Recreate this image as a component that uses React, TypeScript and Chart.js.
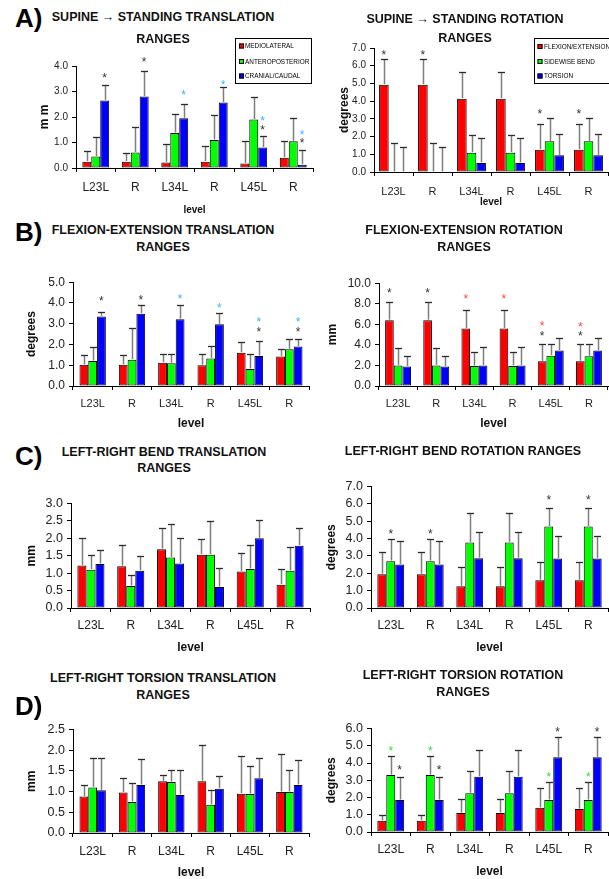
import React, { useEffect, useRef } from "react";
import { Chart, registerables } from "chart.js";

Chart.register(...registerables);
const FONT = "'Liberation Sans', Arial, Helvetica, sans-serif";
Chart.defaults.font.family = FONT;

// ---------- categories & series ----------
const LEVELS = ["L23L", "R", "L34L", "R", "L45L", "R"];
const TRANS_SERIES = ["MEDIOLATERAL", "ANTEROPOSTERIOR", "CRANIAL/CAUDAL"];
const ROT_SERIES = ["FLEXION/EXTENSION", "SIDEWISE BEND", "TORSION"];
const SERIES_COLORS = ["#ff0000", "#00ff00", "#0000ff"];
const STAR_COLORS: Record<string, string> = { k: "#333333", b: "#3fb0ff", r: "#ff4545", g: "#35dd35" };

// ---------- A) supine -> standing translation (mm) ----------
const A_TR_ML = [0.25, 0.25, 0.22, 0.25, 0.18, 0.4];
const A_TR_ML_TOP = [0.65, 0.6, 0.93, 0.85, 1.04, 1.07];
const A_TR_AP = [0.45, 0.61, 1.37, 1.1, 1.9, 1.05];
const A_TR_AP_TOP = [1.2, 1.62, 2.1, 2.08, 2.77, 1.95];
const A_TR_CC = [2.65, 2.8, 1.95, 2.57, 0.8, 0.13];
const A_TR_CC_TOP = [3.25, 3.8, 2.5, 3.18, 1.27, 0.7];
const A_TR_STARS: [number, number, number, string][] = [
  [0, 2, 3.65, "k"], [1, 2, 4.26, "k"], [2, 2, 2.97, "b"], [3, 2, 3.36, "b"],
  [4, 2, 1.95, "b"], [4, 2, 1.62, "k"], [5, 2, 1.4, "b"], [5, 2, 1.09, "k"],
];

// ---------- A) supine -> standing rotation (degrees) ----------
const A_RO_FE = [4.93, 4.93, 4.14, 4.14, 1.26, 1.26];
const A_RO_FE_TOP = [6.38, 6.38, 5.65, 5.65, 2.73, 2.73];
const A_RO_SB = [0, 0, 1.09, 1.09, 1.73, 1.73];
const A_RO_SB_TOP = [1.65, 1.65, 2.11, 2.11, 3.07, 3.07];
const A_RO_TO = [0, 0, 0.51, 0.51, 0.94, 0.94];
const A_RO_TO_TOP = [1.4, 1.4, 1.94, 1.94, 2.17, 2.17];
const A_RO_STARS: [number, number, number, string][] = [
  [0, 0, 6.78, "k"], [1, 0, 6.78, "k"], [4, 0, 3.43, "k"], [5, 0, 3.43, "k"],
];

// ---------- B) flexion-extension translation ----------
const B_TR_ML = [1.02, 1.02, 1.12, 1.0, 1.6, 1.42];
const B_TR_ML_TOP = [1.47, 1.47, 1.55, 1.52, 2.1, 1.8];
const B_TR_AP = [1.2, 1.27, 1.1, 1.33, 0.82, 1.77];
const B_TR_AP_TOP = [1.87, 2.78, 1.55, 1.93, 1.55, 2.28];
const B_TR_CC = [3.35, 3.48, 3.22, 2.97, 1.45, 1.9];
const B_TR_CC_TOP = [3.55, 3.89, 3.9, 3.5, 2.15, 2.28];
const B_TR_STARS: [number, number, number, string][] = [
  [0, 2, 4.24, "k"], [1, 2, 4.27, "k"], [2, 2, 4.32, "b"], [3, 2, 3.92, "b"],
  [4, 2, 3.21, "b"], [4, 2, 2.74, "k"], [5, 2, 3.21, "b"], [5, 2, 2.74, "k"],
];

// ---------- B) flexion-extension rotation ----------
const B_RO_FE = [6.4, 6.4, 5.6, 5.6, 2.4, 2.4];
const B_RO_FE_TOP = [8.2, 8.2, 7.4, 7.4, 4.05, 4.05];
const B_RO_SB = [2.0, 2.0, 1.95, 1.95, 2.95, 2.9];
const B_RO_SB_TOP = [3.7, 3.7, 3.3, 3.3, 4.05, 4.05];
const B_RO_TO = [1.9, 1.9, 2.0, 2.0, 3.45, 3.45];
const B_RO_TO_TOP = [2.95, 2.95, 3.75, 3.75, 4.65, 4.65];
const B_RO_STARS: [number, number, number, string][] = [
  [0, 0, 9.36, "k"], [1, 0, 9.36, "k"], [2, 0, 8.72, "r"], [3, 0, 8.72, "r"],
  [4, 0, 6.1, "r"], [4, 0, 5.14, "k"], [5, 0, 6.0, "r"], [5, 0, 5.14, "k"],
];

// ---------- C) left-right bend translation ----------
const C_TR_ML = [1.22, 1.2, 1.69, 1.53, 1.05, 0.67];
const C_TR_ML_TOP = [2.02, 1.8, 2.3, 1.97, 1.58, 1.12];
const C_TR_AP = [1.1, 0.63, 1.45, 1.53, 1.12, 1.07];
const C_TR_AP_TOP = [1.53, 0.95, 2.4, 2.5, 1.8, 1.75];
const C_TR_CC = [1.26, 1.07, 1.28, 0.6, 2.0, 1.79];
const C_TR_CC_TOP = [1.66, 1.48, 2.02, 1.14, 2.52, 2.31];
const C_TR_STARS: [number, number, number, string][] = [];

// ---------- C) left-right bend rotation ----------
const C_RO_FE = [1.95, 1.95, 1.25, 1.25, 1.6, 1.6];
const C_RO_FE_TOP = [3.2, 3.2, 2.35, 2.35, 2.65, 2.65];
const C_RO_SB = [2.7, 2.7, 3.78, 3.78, 4.69, 4.69];
const C_RO_SB_TOP = [3.95, 3.95, 5.48, 5.48, 5.78, 5.78];
const C_RO_TO = [2.5, 2.5, 2.87, 2.87, 2.85, 2.85];
const C_RO_TO_TOP = [3.85, 3.85, 4.35, 4.35, 4.15, 4.15];
const C_RO_STARS: [number, number, number, string][] = [
  [0, 1, 4.42, "k"], [1, 1, 4.42, "k"], [4, 1, 6.37, "k"], [5, 1, 6.37, "k"],
];

// ---------- D) left-right torsion translation ----------
const D_TR_ML = [0.88, 0.98, 1.25, 1.25, 0.95, 0.99];
const D_TR_ML_TOP = [1.17, 1.32, 1.4, 2.13, 1.86, 1.92];
const D_TR_AP = [1.1, 0.75, 1.23, 0.68, 0.94, 0.99];
const D_TR_AP_TOP = [1.81, 1.2, 1.53, 1.03, 1.61, 1.52];
const D_TR_CC = [1.03, 1.16, 0.92, 1.07, 1.32, 1.16];
const D_TR_CC_TOP = [1.81, 1.78, 1.52, 1.38, 1.81, 1.77];
const D_TR_STARS: [number, number, number, string][] = [];

// ---------- D) left-right torsion rotation ----------
const D_RO_FE = [0.65, 0.65, 1.1, 1.1, 1.4, 1.33];
const D_RO_FE_TOP = [1.0, 1.0, 1.93, 1.93, 2.55, 2.55];
const D_RO_SB = [3.3, 3.3, 2.25, 2.25, 1.85, 1.85];
const D_RO_SB_TOP = [4.42, 4.42, 3.52, 3.52, 2.9, 2.9];
const D_RO_TO = [1.85, 1.85, 3.2, 3.2, 4.33, 4.33];
const D_RO_TO_TOP = [3.2, 3.2, 4.78, 4.78, 5.5, 5.5];
const D_RO_STARS: [number, number, number, string][] = [
  [0, 1, 4.86, "g"], [0, 2, 3.77, "k"], [1, 1, 4.86, "g"], [1, 2, 3.77, "k"],
  [4, 1, 3.37, "g"], [4, 2, 6.0, "k"], [5, 1, 3.37, "g"], [5, 2, 6.0, "k"],
];

// ---------- layout ----------
type LegendSpec = { x: number; y: number; w: number; h: number; sq: number; tx: number; rows: number[] };
interface PanelSpec {
  id: string;
  series: string[];
  means: number[][];
  tops: number[][];
  stars: [number, number, number, string][];
  yMax: number; yStep: number; yTitle: string;
  axisX: number; plotRight: number; plotTop: number; plotBottom: number;
  padTop: number; padRight: number;
  yTitleOff: number; levelOff: number; levelFont: number;
  tickFont: number; xFont: number; xLabOff: number; catPct: number;
  legend?: LegendSpec;
}

const PANELS: PanelSpec[] = [
  {
    id: "a1", series: TRANS_SERIES, means: [A_TR_ML, A_TR_AP, A_TR_CC], tops: [A_TR_ML_TOP, A_TR_AP_TOP, A_TR_CC_TOP],
    stars: A_TR_STARS, yMax: 4, yStep: 1, yTitle: "m m",
    axisX: 76, plotRight: 313, plotTop: 66, plotBottom: 168, padTop: 30, padRight: 3,
    yTitleOff: 31, levelOff: 42, levelFont: 10, tickFont: 10, xFont: 12, xLabOff: 20, catPct: 0.68,
    legend: { x: 235, y: 38, w: 76, h: 45, sq: 239, tx: 245, rows: [46, 61.5, 76] },
  },
  {
    id: "a2", series: ROT_SERIES, means: [A_RO_FE, A_RO_SB, A_RO_TO], tops: [A_RO_FE_TOP, A_RO_SB_TOP, A_RO_TO_TOP],
    stars: A_RO_STARS, yMax: 7, yStep: 1, yTitle: "degrees",
    axisX: 374, plotRight: 608, plotTop: 48, plotBottom: 172, padTop: 12, padRight: 1,
    yTitleOff: 29, levelOff: 30, levelFont: 10, tickFont: 10, xFont: 11, xLabOff: 20, catPct: 0.74,
    legend: { x: 534, y: 38, w: 80, h: 45, sq: 537.5, tx: 544, rows: [46.5, 61.5, 76] },
  },
  {
    id: "b1", series: TRANS_SERIES, means: [B_TR_ML, B_TR_AP, B_TR_CC], tops: [B_TR_ML_TOP, B_TR_AP_TOP, B_TR_CC_TOP],
    stars: B_TR_STARS, yMax: 5, yStep: 1, yTitle: "degrees",
    axisX: 73, plotRight: 309, plotTop: 281, plotBottom: 386, padTop: 10, padRight: 3,
    yTitleOff: 41, levelOff: 38, levelFont: 12, tickFont: 12, xFont: 11, xLabOff: 18, catPct: 0.67,
  },
  {
    id: "b2", series: ROT_SERIES, means: [B_RO_FE, B_RO_SB, B_RO_TO], tops: [B_RO_FE_TOP, B_RO_SB_TOP, B_RO_TO_TOP],
    stars: B_RO_STARS, yMax: 10, yStep: 2, yTitle: "mm",
    axisX: 379, plotRight: 608, plotTop: 282, plotBottom: 386, padTop: 10, padRight: 1,
    yTitleOff: 46, levelOff: 38, levelFont: 12, tickFont: 12, xFont: 11, xLabOff: 18, catPct: 0.68,
  },
  {
    id: "c1", series: TRANS_SERIES, means: [C_TR_ML, C_TR_AP, C_TR_CC], tops: [C_TR_ML_TOP, C_TR_AP_TOP, C_TR_CC_TOP],
    stars: C_TR_STARS, yMax: 3, yStep: 0.5, yTitle: "mm",
    axisX: 71, plotRight: 310, plotTop: 502, plotBottom: 608, padTop: 10, padRight: 3,
    yTitleOff: 39, levelOff: 40, levelFont: 12, tickFont: 12.5, xFont: 12, xLabOff: 18, catPct: 0.68,
  },
  {
    id: "c2", series: ROT_SERIES, means: [C_RO_FE, C_RO_SB, C_RO_TO], tops: [C_RO_FE_TOP, C_RO_SB_TOP, C_RO_TO_TOP],
    stars: C_RO_STARS, yMax: 7, yStep: 1, yTitle: "degrees",
    axisX: 371, plotRight: 608, plotTop: 485, plotBottom: 608, padTop: 10, padRight: 1,
    yTitleOff: 39, levelOff: 40, levelFont: 12, tickFont: 12.5, xFont: 12, xLabOff: 18, catPct: 0.68,
  },
  {
    id: "d1", series: TRANS_SERIES, means: [D_TR_ML, D_TR_AP, D_TR_CC], tops: [D_TR_ML_TOP, D_TR_AP_TOP, D_TR_CC_TOP],
    stars: D_TR_STARS, yMax: 2.5, yStep: 0.5, yTitle: "mm",
    axisX: 73, plotRight: 309, plotTop: 728, plotBottom: 833, padTop: 10, padRight: 3,
    yTitleOff: 41, levelOff: 40, levelFont: 12, tickFont: 12.5, xFont: 12, xLabOff: 19, catPct: 0.67,
  },
  {
    id: "d2", series: ROT_SERIES, means: [D_RO_FE, D_RO_SB, D_RO_TO], tops: [D_RO_FE_TOP, D_RO_SB_TOP, D_RO_TO_TOP],
    stars: D_RO_STARS, yMax: 6, yStep: 1, yTitle: "degrees",
    axisX: 371, plotRight: 608, plotTop: 727, plotBottom: 832, padTop: 10, padRight: 1,
    yTitleOff: 39, levelOff: 40, levelFont: 12, tickFont: 12.5, xFont: 12, xLabOff: 18, catPct: 0.68,
  },
];

const TITLES = [
  { t: "SUPINE \u2192 STANDING TRANSLATION", x: 163, y: 17 },
  { t: "RANGES", x: 163, y: 39 },
  { t: "SUPINE \u2192 STANDING ROTATION", x: 465, y: 19 },
  { t: "RANGES", x: 465, y: 38 },
  { t: "FLEXION-EXTENSION TRANSLATION", x: 163, y: 230 },
  { t: "RANGES", x: 163, y: 247 },
  { t: "FLEXION-EXTENSION ROTATION", x: 464, y: 230 },
  { t: "RANGES", x: 464, y: 247 },
  { t: "LEFT-RIGHT BEND TRANSLATION", x: 164, y: 452 },
  { t: "RANGES", x: 164, y: 468 },
  { t: "LEFT-RIGHT BEND ROTATION RANGES", x: 463, y: 451 },
  { t: "LEFT-RIGHT TORSION TRANSLATION", x: 163, y: 678 },
  { t: "RANGES", x: 163, y: 695 },
  { t: "LEFT-RIGHT TORSION ROTATION", x: 463, y: 675 },
  { t: "RANGES", x: 463, y: 692 },
];

const LETTERS = [
  { t: "A)", y: 17.5 },
  { t: "B)", y: 231.5 },
  { t: "C)", y: 456 },
  { t: "D)", y: 706 },
];

const YW = 62;

function PanelChart({ p }: { p: PanelSpec }) {
  const ref = useRef<HTMLCanvasElement | null>(null);
  const cLeft = p.axisX - YW;
  const cTop = p.plotTop - p.padTop;
  const XH = Math.round(p.levelOff + 0.6 * p.levelFont);
  const W = p.plotRight + p.padRight - cLeft;
  const H = p.plotBottom + XH - cTop;

  useEffect(() => {
    const canvas = ref.current;
    if (!canvas) return;
    const overlay = {
      id: "overlay_" + p.id,
      afterDatasetsDraw(chart: any) {
        const ctx = chart.ctx;
        const ys = chart.scales.y;
        ctx.save();
        // error bars (mean -> mean + SD)
        p.tops.forEach((tops, di) => {
          const meta = chart.getDatasetMeta(di);
          meta.data.forEach((bar: any, i: number) => {
            const x = Math.round(bar.x) + 0.5;
            const yv = ys.getPixelForValue(p.means[di][i]);
            const yt = Math.round(ys.getPixelForValue(tops[i])) + 0.5;
            ctx.strokeStyle = "#7d7d7d";
            ctx.lineWidth = 1.5;
            ctx.beginPath();
            ctx.moveTo(x, yv - 0.5);
            ctx.lineTo(x, yt);
            ctx.stroke();
            ctx.strokeStyle = "#2a2a2a";
            ctx.lineWidth = 1.3;
            ctx.beginPath();
            ctx.moveTo(x - 3.5, yt);
            ctx.lineTo(x + 3.5, yt);
            ctx.stroke();
          });
        });
        // significance stars
        ctx.font = "12px " + FONT;
        ctx.textAlign = "center";
        ctx.textBaseline = "alphabetic";
        p.stars.forEach(([g, s, v, c]) => {
          const bar: any = chart.getDatasetMeta(s).data[g];
          const y = ys.getPixelForValue(v);
          ctx.fillStyle = STAR_COLORS[c];
          ctx.fillText("*", bar.x, y + 7);
        });
        ctx.restore();
      },
      afterDraw(chart: any) {
        if (!p.legend) return;
        const L = p.legend;
        const ctx = chart.ctx;
        ctx.save();
        const bx = L.x - cLeft;
        const by = L.y - cTop;
        ctx.fillStyle = "#ffffff";
        ctx.fillRect(bx, by, L.w, L.h);
        ctx.strokeStyle = "#000";
        ctx.lineWidth = 1;
        ctx.strokeRect(bx + 0.5, by + 0.5, L.w, L.h);
        chart.data.datasets.forEach((ds: any, i: number) => {
          const cy = L.rows[i] - cTop;
          ctx.fillStyle = ds.backgroundColor;
          ctx.fillRect(L.sq - cLeft, cy - 2.5, 5, 5);
          ctx.strokeStyle = "#000";
          ctx.strokeRect(L.sq - cLeft + 0.5, cy - 2.5 + 0.5, 4, 4);
          ctx.fillStyle = "#000";
          ctx.font = "6.4px " + FONT;
          ctx.textAlign = "left";
          ctx.textBaseline = "middle";
          ctx.fillText(ds.label, L.tx - cLeft, cy + 0.5);
        });
        ctx.restore();
      },
    };

    const chart = new Chart(canvas, {
      type: "bar",
      data: {
        labels: LEVELS,
        datasets: p.series.map((s, i) => ({
          label: s,
          data: p.means[i],
          backgroundColor: SERIES_COLORS[i],
          borderColor: "#000000",
          borderWidth: 1,
          borderSkipped: false,
          barPercentage: 1,
          categoryPercentage: p.catPct,
        })),
      },
      options: {
        responsive: false,
        maintainAspectRatio: false,
        animation: false,
        devicePixelRatio: 1,
        layout: { padding: { top: p.padTop, right: p.padRight, left: 0, bottom: 0 } },
        plugins: {
          legend: { display: false },
          tooltip: { enabled: false },
          title: { display: false },
        },
        scales: {
          x: {
            type: "category",
            grid: { display: true, drawOnChartArea: false, drawTicks: true, tickLength: 4, color: "#000", tickColor: "#000", offset: true },
            border: { display: true, color: "#000", width: 1 },
            ticks: {
              autoSkip: false, maxRotation: 0, minRotation: 0,
              font: { size: p.xFont, family: FONT },
              color: "#222",
              padding: p.xLabOff - 4 - 0.6 * p.xFont,
            },
            title: {
              display: true, text: "level", color: "#111",
              font: { size: p.levelFont, weight: "bold", family: FONT },
              padding: { top: 0, bottom: Math.max(0, XH - p.levelOff - 0.6 * p.levelFont) },
            },
            afterFit: (s: any) => { s.height = XH; },
          },
          y: {
            min: 0,
            max: p.yMax,
            grid: { display: true, drawOnChartArea: false, drawTicks: true, tickLength: 4, color: "#000", tickColor: "#000" },
            border: { display: true, color: "#000", width: 1 },
            ticks: {
              stepSize: p.yStep,
              autoSkip: false,
              maxTicksLimit: 50,
              font: { size: p.tickFont, family: FONT },
              color: "#222",
              padding: 4,
              callback: (v: any) => Number(v).toFixed(1),
            },
            title: {
              display: true, text: p.yTitle, color: "#111",
              font: { size: 12, weight: "bold", family: FONT },
              padding: { top: YW - p.yTitleOff - 7.2, bottom: 0 },
            },
            afterFit: (s: any) => { s.width = YW; },
          },
        },
      } as any,
      plugins: [overlay],
    });
    return () => chart.destroy();
  }, []);

  return (
    <canvas
      ref={ref}
      width={W}
      height={H}
      style={{ position: "absolute", left: cLeft, top: cTop, width: W, height: H }}
    />
  );
}

export default function App() {
  return (
    <div
      style={{
        position: "fixed", left: 0, top: 0, width: 609, height: 879,
        overflow: "hidden", background: "#ffffff", fontFamily: FONT,
      }}
    >
      {PANELS.map((p) => (
        <PanelChart key={p.id} p={p} />
      ))}
      {TITLES.map((t, i) => (
        <div
          key={"t" + i}
          style={{
            position: "absolute", left: t.x, top: t.y, transform: "translate(-50%, -50%)",
            whiteSpace: "nowrap", fontWeight: "bold", fontSize: 12.5, lineHeight: 1, color: "#111",
          }}
        >
          {t.t}
        </div>
      ))}
      {LETTERS.map((l, i) => (
        <div
          key={"l" + i}
          style={{
            position: "absolute", left: 15, top: l.y, transform: "translateY(-50%)",
            whiteSpace: "nowrap", fontWeight: "bold", fontSize: 26, lineHeight: 1, color: "#000",
          }}
        >
          {l.t}
        </div>
      ))}
    </div>
  );
}
